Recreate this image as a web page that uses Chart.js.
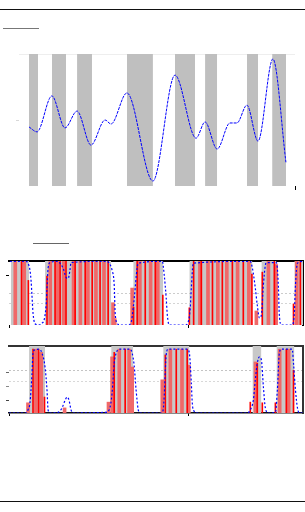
<!DOCTYPE html>
<html>
<head>
<meta charset="utf-8">
<script src="https://cdn.jsdelivr.net/npm/chart.js@4.4.0/dist/chart.umd.min.js"></script>
<style>
  body { margin: 0; background: #fff; width: 305px; height: 512px; position: relative; overflow: hidden; }
  canvas { position: absolute; left: 0; }
  .rule { position: absolute; height: 1px; }
</style>
</head>
<body>
<div class="rule" style="top:9px;left:0;width:305px;background:#111"></div>
<div class="rule" style="top:28px;left:3px;width:36px;background:#777"></div>
<div class="rule" style="top:243px;left:33px;width:36px;background:#666"></div>
<div class="rule" style="top:501px;left:0;width:305px;background:#111"></div>

<canvas id="sigChart" width="305" height="160" style="top:40px"></canvas>
<canvas id="stateAChart" width="305" height="100" style="top:240px"></canvas>
<canvas id="stateBChart" width="305" height="90" style="top:340px"></canvas>

<script>
// ---- top panel: observed signal + shaded segments ----
var sigBands = [[0, 3.5], [8.9, 14.4], [18.7, 24.5], [38.1, 48.2], [56.8, 64.6], [68.5, 73.2], [84.8, 89.1], [94.6, 100]];
var sigT = [0, 3.1, 8.9, 14.0, 18.7, 24.1, 29.6, 31.9, 38.1, 48.2, 56.8, 65.0, 68.5, 73.2, 78.2, 80.9, 84.8, 89.1, 94.9, 100];
var sigV = [-0.21, -0.36, 0.73, -0.24, 0.27, -0.76, 0.0, -0.12, 0.82, -1.85, 1.36, -0.55, -0.06, -0.88, -0.09, -0.09, 0.45, -0.64, 1.85, -1.30];

// ---- state A posterior ----
var bandsA = [[1, 11.2], [20.1, 57], [69.3, 86], [100.6, 135.8], [140.8, 149.2], [159.2, 164]];
var probAx = [0.5, 9.5, 10.6, 11.7, 12.3, 12.8, 13.4, 14.5, 16.8, 18.4, 19.6, 20.7, 21.2, 21.8, 22.9, 27.4, 28.5, 30.2, 31.8, 33.0, 34.0, 34.6,
              54.7, 55.9, 57.5, 58.7, 59.2, 60.3, 62.0, 66.5, 68.2, 69.3, 70.4, 71.0, 72.1, 85.5, 86.6, 87.7, 88.3, 89.4, 98.3,
              100.0, 101.1, 101.7, 102.8, 134.6, 135.8, 137.4, 138.5, 139.7, 140.8, 141.9, 143.0, 143.6, 149.2, 149.7, 150.3,
              150.8, 152.0, 158.0, 159.2, 159.8, 160.9, 164];
var probAy = [1, 1, 0.97, 0.86, 0.70, 0.47, 0.19, 0.02, 0, 0.03, 0.08, 0.31, 0.58, 0.89, 0.98, 1, 0.97, 0.89, 0.75, 0.73, 0.86, 0.98,
              1, 0.97, 0.86, 0.62, 0.2, 0.03, 0, 0, 0.05, 0.27, 0.58, 0.78, 0.97, 1, 0.78, 0.42, 0.16, 0, 0,
              0.05, 0.27, 0.58, 0.97, 1, 0.89, 0.58, 0.31, 0.11, 0.16, 0.63, 0.94, 0.98, 0.98, 0.89, 0.58,
              0.16, 0, 0, 0.2, 0.63, 0.97, 1];
var lightAx = [3.5, 8.5, 23, 27, 30.5, 36, 39.8, 44, 48.5, 53, 58, 59, 68.7, 73, 79, 83, 106.5, 111, 116.5, 121.5, 127.5, 133.8, 138, 144.7, 149, 160.5];
var lightAy = [1, 1, 1, 1, 1, 1, 1, 1, 1, 1, 0.35, 0.1, 0.58, 1, 1, 1, 1, 1, 1, 1, 1, 1, 0.22, 1, 0.95, 1];
var brightAx = [7, 10.8, 21.2, 25.7, 28.5, 31.8, 36.9, 42.5, 46.4, 50.8, 55.3, 69.5, 71.5, 76, 81.6, 85.8, 100.6, 103, 107.3, 113.5, 119, 124.6, 130.7, 135.5, 141.3, 148, 158.7, 162.5];
var brightAy = [1, 0.7, 0.77, 1, 1, 1, 1, 1, 1, 1, 1, 0.28, 1, 1, 1, 0.47, 0.27, 1, 1, 1, 1, 1, 1, 0.8, 0.83, 1, 0.33, 1];

// ---- state B posterior ----
var bandsB = [[11.2, 20.1], [57, 69.3], [86, 100.6], [135.8, 140.8], [149.2, 159.2]];
var probBx = [0, 9.5, 10.6, 11.7, 12.8, 13.4, 14.5, 16.8, 18.4, 20.1, 21.2, 21.8, 22.9, 27.4, 29.6, 31.3, 32.4, 33.5, 34.6, 35.8,
              53.6, 55.9, 57.5, 58.7, 59.8, 61.5, 67.6, 68.7, 69.8, 70.9, 72.1, 73.2, 84.9, 86, 86.6, 87.2, 87.7, 88.8,
              99.4, 100.6, 101.7, 102.2, 102.8, 105, 133, 134.6, 136.3, 137.4, 138.5, 139.7, 140.8, 141.9, 143, 144.7,
              148.6, 149.7, 150.8, 152, 158, 158.7, 159.8, 160.9, 162, 164];
var probBy = [0, 0, 0.05, 0.16, 0.6, 0.94, 0.99, 1, 0.94, 0.72, 0.36, 0.05, 0, 0.01, 0.08, 0.2, 0.25, 0.2, 0.05, 0,
              0.01, 0.05, 0.31, 0.78, 0.94, 1, 1, 0.94, 0.75, 0.36, 0.05, 0, 0, 0.05, 0.27, 0.67, 0.91, 1,
              1, 0.94, 0.47, 0.17, 0.05, 0, 0, 0.05, 0.2, 0.52, 0.78, 0.88, 0.83, 0.41, 0.08, 0,
              0.01, 0.36, 0.94, 1, 1, 0.78, 0.36, 0.08, 0, 0];
var lightBx = [10.6, 15, 18, 31, 55.5, 57.5, 61.5, 67, 68.7, 85.5, 90, 96.5, 100.3, 137.5, 151, 156];
var lightBy = [0.16, 1, 0.95, 0.08, 0.17, 0.88, 1, 1, 0.72, 0.52, 1, 1, 0.75, 0.8, 1, 1];
var brightBx = [13.4, 16.5, 19.8, 58.7, 64.8, 87.2, 93.3, 99.4, 134.6, 138.5, 141.3, 148.6, 154.7, 158.7];
var brightBy = [1, 1, 0.25, 0.95, 1, 0.91, 1, 1, 0.17, 0.78, 0.16, 0.16, 1, 0.67];

function pts(xs, ys) {
    return xs.map(function(x, i) { return { x: x, y: ys[i] }; });
}

function bandSets(bands, top, color) {
    return bands.map(function(b) {
        return {
            type: 'line',
            data: [{ x: b[0], y: top }, { x: b[1], y: top }],
            fill: 'start',
            backgroundColor: color,
            borderWidth: 0,
            pointRadius: 0,
            order: 5
        };
    });
}

function curveSet(xs, ys, width, dash) {
    return {
        type: 'line',
        data: pts(xs, ys),
        borderColor: '#0000ff',
        borderWidth: width,
        borderDash: dash,
        pointRadius: 0,
        fill: false,
        cubicInterpolationMode: 'monotone',
        order: 0
    };
}

function barSet(xs, ys, color, thick, order) {
    return {
        type: 'bar',
        data: pts(xs, ys),
        backgroundColor: color,
        barThickness: thick,
        grouped: false,
        order: order
    };
}

function only(values) {
    return function(axis) { axis.ticks = values.map(function(v) { return { value: v }; }); };
}

function pick(map, fallback) {
    return function(ctx) {
        if (!ctx.tick) return fallback;
        var c = map[ctx.tick.value];
        return c === undefined ? fallback : c;
    };
}

Chart.defaults.animation = false;
Chart.defaults.plugins.legend.display = false;
Chart.defaults.plugins.tooltip.enabled = false;

// top panel
new Chart(document.getElementById('sigChart'), {
    type: 'line',
    data: {
        datasets: [curveSet(sigT, sigV, 1, [3, 1])].concat(bandSets(sigBands, 2, '#bfbfbf'))
    },
    options: {
        responsive: false,
        layout: { padding: { left: 16, top: 14, right: 10, bottom: 10 } },
        scales: {
            x: {
                type: 'linear', min: -3.9, max: 103.5, offset: false,
                border: { display: false },
                grid: { drawOnChartArea: false, tickLength: 4, tickColor: '#000' },
                ticks: { display: false },
                afterBuildTicks: only([103.5])
            },
            y: {
                min: -2, max: 2,
                border: { display: false },
                grid: {
                    tickLength: 3,
                    color: pick({ 2: '#eeeeee' }, 'rgba(0,0,0,0)'),
                    tickColor: pick({ 0: '#d8d8d8' }, 'rgba(0,0,0,0)')
                },
                ticks: { display: false },
                afterBuildTicks: only([0, 2])
            }
        }
    }
});

function stateOptions(ymax, frameColor, gridMap, tickMap, tickVals, bottomBorder) {
    return {
        responsive: false,
        layout: { padding: { left: 6, top: 0, right: 2, bottom: 0 } },
        scales: {
            x: {
                type: 'linear', min: 0, max: 164, offset: false,
                border: { display: bottomBorder, color: '#111', width: 1.5 },
                grid: { offset: false, drawOnChartArea: false, tickLength: 3, tickColor: '#000' },
                ticks: { display: false },
                afterBuildTicks: only([0, 100])
            },
            xt: {
                type: 'linear', position: 'top', min: 0, max: 164,
                border: { display: true, color: frameColor, width: 2 },
                grid: { display: false, drawTicks: false },
                ticks: { display: false }
            },
            y: {
                min: 0, max: ymax,
                border: { display: false, dash: [2, 2] },
                grid: {
                    tickLength: 3,
                    color: pick(gridMap, 'rgba(0,0,0,0)'),
                    tickColor: pick(tickMap, 'rgba(0,0,0,0)')
                },
                ticks: { display: false },
                afterBuildTicks: only(tickVals)
            },
            yr: {
                position: 'right', min: 0, max: ymax,
                border: { display: true, color: frameColor, width: 2 },
                grid: { display: false, drawTicks: false },
                ticks: { display: false }
            }
        }
    };
}

// state A panel
var optA = stateOptions(1.005, '#000', { 0.33: '#d4d4d4', 0.5: '#cccccc' }, { 0.78: '#000' }, [0.33, 0.5, 0.78], false);
optA.layout.padding.top = 21;
optA.layout.padding.bottom = 12;
new Chart(document.getElementById('stateAChart'), {
    type: 'line',
    data: {
        datasets: [
            curveSet(probAx, probAy, 1.2, [2, 2]),
            barSet(brightAx, brightAy, '#ff0000', 1, 2),
            barSet(lightAx, lightAy, '#f06868', 3, 3)
        ].concat(bandSets(bandsA, 1.005, '#c8c8c8'))
    },
    options: optA
});

// state B panel
var optB = stateOptions(1.05, '#333', { 0.5: '#d8d8d8', 0.67: '#c4c4c4' }, { 0.2: '#444', 0.41: '#888', 0.63: '#666' }, [0.2, 0.41, 0.5, 0.63, 0.67], true);
optB.layout.padding.top = 6;
optB.layout.padding.bottom = 14;
new Chart(document.getElementById('stateBChart'), {
    type: 'line',
    data: {
        datasets: [
            curveSet(probBx, probBy, 1.2, [2, 2]),
            barSet(brightBx, brightBy, '#ff0000', 1, 2),
            barSet(lightBx, lightBy, '#f06868', 3, 3)
        ].concat(bandSets(bandsB, 1.05, '#c8c8c8'))
    },
    options: optB
});
</script>
</body>
</html>
